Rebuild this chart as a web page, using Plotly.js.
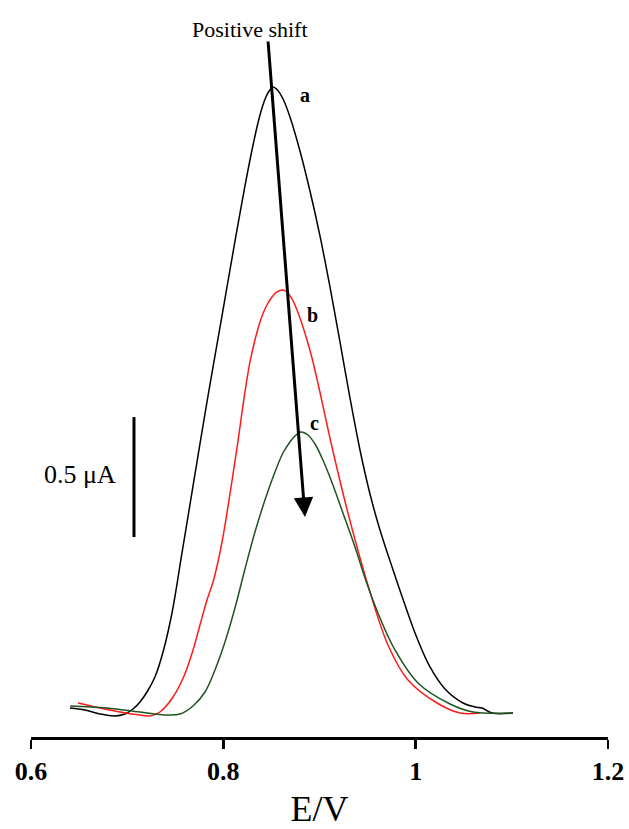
<!DOCTYPE html>
<html>
<head>
<meta charset="utf-8">
<script src="https://cdn.plot.ly/plotly-3.0.1.min.js"></script>
<style>html,body{margin:0;padding:0;background:#fff;}#chart{width:629px;height:829px;}</style>
</head>
<body>
<div id="chart"></div>
<script>
// Curve a (black)
const aE = [0.6406,0.6562,0.6717,0.6873,0.6977,0.7061,0.7133,0.7206,0.7289,0.7373,0.7466,0.7570,0.7685,0.7757,0.7830,0.7913,0.7986,0.8069,0.8142,0.8225,0.8298,0.8360,0.8412,0.8464,0.8516,0.8558,0.8621,0.8693,0.8797,0.8901,0.9005,0.9109,0.9213,0.9317,0.9421,0.9525,0.9629,0.9765,0.9889,1.0014,1.0149,1.0305,1.0492,1.0617,1.0690,1.0794,1.1012];
const aI = [0.121,0.1125,0.0958,0.0875,0.0958,0.1167,0.1458,0.1875,0.25,0.3542,0.5167,0.7667,1.0458,1.2208,1.3958,1.5875,1.7542,1.9458,2.1125,2.2958,2.4458,2.5583,2.6333,2.6833,2.7083,2.6979,2.6583,2.5833,2.4417,2.275,2.0875,1.875,1.6458,1.4125,1.1958,1.0125,0.8625,0.6958,0.55,0.4125,0.2917,0.2,0.1417,0.125,0.1208,0.1,0.1];
// Curve b (red)
const bE = [0.6489,0.6717,0.6925,0.7133,0.7237,0.7341,0.7477,0.7591,0.7685,0.7757,0.7830,0.7893,0.7944,0.7996,0.8069,0.8142,0.8225,0.8277,0.8329,0.8381,0.8443,0.8506,0.8558,0.8610,0.8662,0.8714,0.8766,0.8818,0.8870,0.8922,0.8995,0.9130,0.9296,0.9494,0.9712,0.9920,1.0222,1.0461,1.0669];
const bI = [0.1417,0.1208,0.1042,0.0917,0.0875,0.1042,0.1667,0.2542,0.3625,0.4667,0.5708,0.6458,0.7292,0.8333,1.0125,1.2042,1.4375,1.5625,1.6542,1.7292,1.7917,1.8333,1.8542,1.8625,1.8542,1.825,1.7792,1.7208,1.6542,1.5792,1.4542,1.2083,0.9333,0.6458,0.3833,0.2375,0.1417,0.1,0.1];
// Curve c (green)
const cE = [0.6406,0.6790,0.7133,0.7414,0.7549,0.7685,0.7809,0.7913,0.8017,0.8121,0.8225,0.8329,0.8433,0.8537,0.8620,0.8693,0.8745,0.8807,0.8880,0.8953,0.9026,0.9120,0.9244,0.9369,0.9473,0.9608,0.9785,1.0024,1.0357,1.0596,1.1012];
const cI = [0.1292,0.1208,0.1042,0.0917,0.0958,0.1292,0.1875,0.2792,0.3958,0.5375,0.7,0.8542,0.9875,1.1042,1.1833,1.2292,1.2542,1.2708,1.2583,1.2208,1.1625,1.0708,0.9333,0.7917,0.6625,0.5167,0.3625,0.225,0.1375,0.1042,0.1];

const tickVals = [0.6, 0.8, 1, 1.2];
const tickText = ['0.6', '0.8', '1', '1.2'];
const curveLabels = ['a', 'b', 'c'];
const scaleBarValue = 0.5;

const serif = 'Liberation Serif, Times New Roman, serif';
const line = (x, y, color) => ({x, y, type: 'scatter', mode: 'lines', line: {color, width: 1.5, shape: 'spline', smoothing: 1}, hoverinfo: 'skip'});

const data = [
  line(aE, aI, '#000000'),
  line(bE, bI, '#ff1a1a'),
  line(cE, cI, '#1f5420')
];

const layout = {
  width: 629, height: 829,
  margin: {l: 31, r: 21, t: 10, b: 92},
  paper_bgcolor: '#ffffff', plot_bgcolor: '#ffffff',
  showlegend: false,
  xaxis: {
    range: [0.6, 1.2], showgrid: false, zeroline: false,
    showline: true, linecolor: '#000', linewidth: 2.5,
    ticks: 'outside', ticklen: 9, tickwidth: 2.5, tickcolor: '#000',
    tickvals: tickVals, ticktext: tickText,
    tickfont: {family: serif, size: 26, color: '#000', weight: 'bold'},
    title: {text: 'E/V', font: {family: serif, size: 36, color: '#000'}, standoff: 20}
  },
  yaxis: {range: [0, 3.029], visible: false, fixedrange: true},
  shapes: [
    {type: 'line', xref: 'x', yref: 'y', x0: 0.7071, x1: 0.7071, y0: 0.833, y1: 0.833 + scaleBarValue, line: {color: '#000', width: 3}}
  ],
  annotations: [
    {x: 0.8849, y: 0.917, ax: 0.8464, ay: 2.904, xref: 'x', yref: 'y', axref: 'x', ayref: 'y', text: '', showarrow: true, arrowhead: 2, arrowsize: 1.3, arrowwidth: 3, arrowcolor: '#000'},
    {x: 0.8277, y: 2.946, xref: 'x', yref: 'y', text: 'Positive shift', showarrow: false, font: {family: serif, size: 22, color: '#000'}},
    {x: 0.8849, y: 2.675, xref: 'x', yref: 'y', text: '<b>' + curveLabels[0] + '</b>', showarrow: false, font: {family: serif, size: 20, color: '#000'}},
    {x: 0.8932, y: 1.758, xref: 'x', yref: 'y', text: '<b>' + curveLabels[1] + '</b>', showarrow: false, font: {family: serif, size: 20, color: '#000'}},
    {x: 0.8953, y: 1.308, xref: 'x', yref: 'y', text: '<b>' + curveLabels[2] + '</b>', showarrow: false, font: {family: serif, size: 20, color: '#000'}},
    {x: 0.651, y: 1.092, xref: 'x', yref: 'y', text: scaleBarValue + ' \u03bcA', showarrow: false, font: {family: serif, size: 26, color: '#000'}}
  ]
};

Plotly.newPlot('chart', data, layout, {staticPlot: true, displayModeBar: false});
</script>
</body>
</html>
